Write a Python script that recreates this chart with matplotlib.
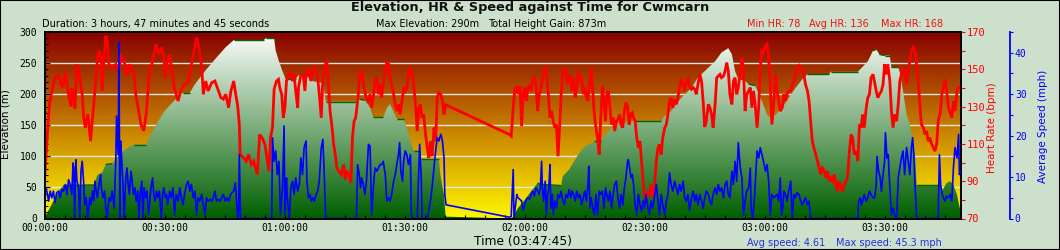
import numpy as np
import matplotlib
matplotlib.use('Agg')
import matplotlib.pyplot as plt
from matplotlib.colors import LinearSegmentedColormap
from matplotlib.patches import Polygon, Rectangle
from matplotlib.ticker import FixedLocator, MultipleLocator

# ---------------- data (time in minutes) ----------------
elev_time = [
    0.0, 0.8, 2.1, 3.4, 4.6, 12.2, 13.1, 14.3, 15.2, 16.8,
    17.7, 19.4, 21.1, 22.3, 25.3, 26.5, 27.8, 29.9, 32.4, 34.5,
    36.2, 37.5, 40.0, 42.5, 45.1, 47.2, 54.7, 55.2, 57.3, 57.7,
    58.5, 59.4, 60.2, 62.7, 63.6, 65.3, 66.9, 69.5, 70.3, 77.9,
    78.7, 80.0, 81.3, 82.1, 84.6, 85.5, 86.3, 88.0, 89.7, 90.5,
    91.4, 92.2, 93.9, 94.1, 98.5, 98.9, 99.8, 100.2, 116.6, 117.1,
    118.3, 120.0, 121.6, 123.2, 123.9, 129.1, 129.5, 131.1, 133.4, 135.0,
    137.4, 139.0, 140.5, 142.9, 145.3, 147.6, 154.1, 155.0, 156.6, 159.1,
    161.7, 163.3, 165.0, 167.6, 169.2, 170.9, 171.8, 172.6, 173.4, 175.1,
    176.0, 177.6, 179.3, 180.6, 181.4, 182.7, 184.4, 186.0, 187.7, 189.4,
    190.7, 196.1, 196.5, 203.3, 204.5, 205.8, 207.1, 207.9, 208.7, 210.0,
    211.3, 211.7, 213.4, 213.8, 214.6, 215.5, 216.3, 217.1, 217.6, 218.0,
    223.9, 224.3, 225.5, 226.4, 227.2, 228.1, 228.9]
elev_m = [
    3, 12, 28, 44, 53, 54, 70, 74, 87, 88,
    96, 108, 116, 119, 119, 135, 151, 173, 190, 202,
    202, 216, 237, 256, 275, 287, 287, 290, 290, 270,
    253, 237, 224, 224, 232, 230, 221, 218, 188, 188,
    192, 190, 178, 163, 163, 178, 184, 160, 160, 146,
    124, 109, 109, 95, 95, 70, 38, 3, 0, 3,
    17, 30, 44, 57, 55, 53, 68, 79, 103, 116,
    124, 124, 138, 151, 154, 157, 157, 165, 173, 194,
    210, 227, 237, 253, 267, 274, 264, 237, 224, 221,
    216, 214, 189, 167, 162, 167, 178, 194, 210, 224,
    232, 232, 236, 236, 244, 253, 270, 272, 264, 262,
    262, 243, 243, 235, 205, 167, 151, 124, 103, 54,
    54, 44, 57, 60, 54, 38, 14]

hr_time = [
    0.0, 0.4, 1.1, 1.7, 2.5, 3.4, 4.0, 4.5, 5.1, 5.5,
    5.9, 6.5, 6.7, 7.2, 7.5, 8.0, 8.7, 9.3, 9.7, 10.1,
    10.7, 11.4, 11.8, 12.2, 12.6, 13.2, 13.7, 14.1, 14.3, 14.6,
    15.2, 15.6, 16.0, 16.8, 17.7, 18.3, 19.1, 19.8, 20.5, 21.1,
    21.9, 22.3, 22.7, 23.3, 24.0, 24.7, 25.3, 25.7, 26.1, 26.7,
    27.8, 28.4, 29.2, 29.7, 30.1, 30.6, 31.2, 31.6, 32.3, 32.8,
    33.3, 33.9, 34.9, 35.8, 36.5, 37.1, 37.9, 38.5, 39.2, 39.6,
    40.2, 40.8, 41.7, 42.5, 43.4, 44.0, 44.6, 45.2, 45.9, 46.5,
    47.2, 47.7, 48.2, 48.6, 48.8, 49.7, 50.3, 50.9, 51.6, 52.2,
    53.1, 53.7, 54.3, 55.0, 56.0, 56.4, 56.9, 57.3, 57.9, 58.4,
    58.7, 59.2, 59.6, 60.0, 60.4, 60.9, 61.5, 61.9, 62.3, 62.7,
    63.2, 63.4, 64.0, 64.6, 65.0, 65.4, 65.9, 66.5, 67.0, 67.6,
    68.2, 68.6, 69.1, 69.5, 70.1, 70.5, 71.0, 71.3, 71.8, 72.2,
    72.6, 73.0, 73.5, 74.1, 74.7, 75.1, 75.5, 76.0, 76.5, 76.9,
    77.3, 77.7, 78.3, 78.7, 79.2, 79.8, 80.3, 80.8, 81.3, 81.7,
    82.1, 82.5, 83.0, 83.4, 83.8, 84.2, 84.6, 85.1, 85.5, 86.0,
    86.3, 86.7, 87.2, 87.6, 88.0, 88.4, 88.8, 89.3, 89.7, 90.1,
    90.5, 90.9, 91.4, 91.8, 92.2, 92.6, 93.1, 93.5, 93.9, 94.3,
    94.7, 95.2, 95.6, 96.0, 96.4, 96.8, 97.3, 97.7, 98.1, 98.5,
    99.0, 99.4, 99.8, 100.2, 116.2, 116.6, 117.1, 117.5, 117.9, 118.3,
    118.8, 119.2, 119.6, 120.0, 120.4, 120.8, 121.2, 121.6, 122.0, 122.4,
    122.8, 123.2, 123.6, 123.9, 124.3, 124.7, 125.1, 125.5, 125.9, 126.3,
    126.7, 127.1, 127.5, 127.9, 128.3, 128.7, 129.1, 129.5, 130.1, 130.7,
    131.1, 131.5, 131.8, 132.2, 132.6, 133.0, 133.4, 133.8, 134.2, 134.6,
    135.0, 135.4, 135.8, 136.2, 136.6, 137.0, 137.4, 137.8, 138.2, 138.6,
    139.0, 139.4, 139.8, 140.2, 140.5, 140.9, 141.3, 141.7, 142.1, 142.5,
    142.9, 143.3, 143.7, 144.1, 144.5, 144.9, 145.3, 145.7, 146.1, 146.5,
    146.9, 147.2, 147.6, 148.0, 148.4, 148.8, 149.2, 149.6, 149.9, 150.3,
    150.8, 151.2, 151.6, 152.0, 152.4, 152.9, 153.3, 153.7, 154.1, 154.5,
    155.0, 155.4, 155.8, 156.2, 156.6, 157.0, 157.5, 157.9, 158.3, 158.7,
    159.1, 159.6, 160.0, 160.4, 160.8, 161.2, 161.7, 162.1, 162.5, 162.9,
    163.3, 163.8, 164.2, 164.6, 165.0, 165.4, 165.9, 166.3, 166.7, 167.1,
    167.6, 168.0, 168.4, 168.8, 169.2, 169.7, 170.1, 170.5, 170.9, 171.3,
    171.8, 172.2, 172.6, 173.0, 173.4, 173.9, 174.3, 174.7, 175.1, 175.5,
    176.0, 176.4, 176.8, 177.2, 177.6, 178.1, 178.5, 178.9, 179.3, 179.7,
    180.2, 180.6, 181.0, 181.4, 181.8, 182.3, 182.7, 183.1, 183.5, 183.9,
    184.4, 184.8, 185.2, 185.6, 186.0, 186.5, 186.9, 187.3, 187.7, 188.1,
    188.6, 189.0, 189.4, 189.8, 190.2, 190.7, 191.1, 191.5, 191.9, 192.3,
    192.8, 193.2, 193.6, 194.0, 194.4, 194.9, 195.3, 195.7, 196.1, 196.5,
    197.0, 197.4, 197.8, 198.2, 198.6, 199.1, 199.5, 199.9, 200.3, 200.7,
    201.2, 201.6, 202.0, 202.4, 202.9, 203.3, 203.7, 204.1, 204.5, 204.9,
    205.4, 205.8, 206.2, 206.6, 207.1, 207.5, 207.9, 208.3, 208.7, 209.2,
    209.6, 210.0, 210.4, 210.8, 211.3, 211.7, 212.1, 212.5, 213.0, 213.4,
    213.8, 214.2, 214.6, 215.0, 215.5, 215.9, 216.3, 216.7, 217.1, 217.6,
    218.0, 218.4, 218.8, 219.2, 219.7, 220.1, 220.5, 220.9, 221.3, 221.8,
    222.2, 222.6, 223.0, 223.4, 223.9, 224.3, 224.7, 225.1, 225.5, 226.0,
    226.4, 226.8, 227.2, 227.6, 228.1, 228.5, 228.9]
hr_bpm = [
    95, 109, 131, 138, 145.5, 147, 142, 140, 149, 142,
    136.6, 130, 140, 135, 129, 152.7, 145.5, 136.6, 124, 118.7,
    126, 111.5, 122, 131, 142, 158, 160, 154.5, 138.4, 151,
    168, 165, 152.7, 151, 152.7, 149, 157, 154.5, 146.4, 152.7,
    149, 147.3, 136.6, 129.4, 120.4, 117, 126, 136.6, 149, 152.7,
    163.5, 158, 161.7, 156.3, 145.5, 154.5, 158, 151, 140, 136.6,
    133, 138.4, 142, 143, 151, 158, 167, 161.7, 151, 136.6,
    143.7, 138.4, 142.8, 143.7, 138.4, 134.8, 134, 136.6, 129.4, 138.4,
    143.7, 136.6, 130.3, 120.4, 104.3, 102.5, 100.7, 104.3, 98.9, 100.7,
    93.6, 115, 113.3, 109.7, 95.4, 113.3, 118.7, 139.3, 143.7, 144.6,
    140.2, 136.6, 124, 129.4, 143.7, 147.3, 148.2, 143.7, 147.3, 138.4,
    129.4, 140.2, 147.3, 146.4, 138.4, 149.1, 150, 143.7, 149.1, 150.9,
    145.5, 136.6, 124, 145.5, 152.7, 153.6, 138.4, 127.6, 118.7, 109.7,
    104.3, 97.1, 95.4, 93.6, 98.9, 90.9, 95.4, 93.6, 89.1, 113.3,
    122.2, 124, 134.8, 147.3, 149.1, 140.2, 134.8, 133, 136.6, 129.4,
    134.8, 143.7, 145.5, 136.6, 141.9, 134.8, 141.9, 149.1, 153.6, 152.7,
    145.5, 141.9, 136.6, 131.2, 127.6, 131.2, 125.8, 133, 140.2, 138.4,
    140.2, 147.3, 150.9, 148.2, 141.9, 133, 116.9, 129.4, 131.2, 124,
    125.8, 115, 107.9, 102.5, 111.5, 103.4, 118.7, 111.5, 134.8, 137.5,
    136.6, 133, 125.8, 131, 115, 114.2, 129.4, 139.3, 140.2, 136.6,
    141, 119.5, 136.6, 140.2, 133, 140.2, 141, 138.4, 144.6, 145.5,
    141.9, 127.6, 136.6, 138.4, 143.7, 147.3, 151.8, 145.5, 136.6, 124,
    127.6, 122.2, 118.7, 120.4, 103.4, 118.7, 136.6, 149.1, 150, 141.9,
    147.3, 143.7, 138.4, 145.5, 134.8, 140.2, 149.1, 143.7, 145.5, 136.6,
    140.2, 134.8, 133, 143.7, 150.9, 138.4, 125.8, 118.7, 113.3, 104.3,
    124, 141, 133, 122.2, 136.6, 138.4, 129.4, 120.4, 124, 116.9,
    122.2, 123.1, 125.8, 120.4, 118.7, 127.6, 132.1, 130.3, 120.4, 125.8,
    126.7, 124, 122.2, 113.3, 107.9, 111.5, 100.7, 90, 82.8, 79.2,
    84.6, 82.8, 88.2, 81, 86.4, 100.7, 107.9, 109.7, 104.3, 113.3,
    118.7, 120.4, 125.8, 133, 134.8, 129.4, 133.9, 131.2, 134.8, 140.2,
    143.7, 141.9, 138.4, 143.7, 145.5, 141, 139.3, 140.2, 139.3, 136.6,
    141.9, 147.3, 143.7, 133, 119.1, 122.2, 131.2, 129.4, 125.8, 118.7,
    131.2, 145.5, 146.4, 147.3, 145.5, 146.4, 149.1, 153.6, 149.1, 136.6,
    131.2, 143.7, 145.5, 136.6, 140.2, 149.1, 156.3, 149.1, 127.6, 136.6,
    138.4, 140.2, 129.4, 138.4, 131.2, 118.7, 129.4, 150.9, 159.9, 159,
    162.6, 163.5, 156.3, 142, 120.4, 133, 147.3, 138.4, 133, 127.6,
    129.4, 136.6, 133, 136.6, 138.4, 138.4, 141.9, 143.7, 147.3, 150,
    151.8, 150, 149.1, 147.3, 141.9, 138.4, 133, 122.2, 111.5, 107.9,
    104.3, 100.7, 97.1, 93.6, 97.1, 95.4, 91.8, 95.4, 90, 91.8,
    90, 93.6, 88.2, 84.7, 90, 86.4, 84.7, 88.2, 90, 91.8,
    106.1, 115, 113.3, 104.3, 106.1, 100.7, 120.4, 118.7, 125.8, 118.7,
    129.4, 134.8, 136.6, 145.5, 147.3, 142.8, 138.4, 134.8, 136.6, 138.4,
    141.9, 152.7, 147.3, 152.7, 143.7, 127.6, 118.7, 125.8, 122.2, 131.2,
    143.7, 147.3, 150.9, 149.1, 141.9, 149.1, 154.5, 159.9, 161.7, 159.9,
    152.7, 143.7, 131.2, 120.4, 118.7, 115.1, 116.9, 111.5, 113.3, 109.7,
    107.9, 106.1, 109.7, 122.2, 126.7, 136.6, 140.2, 144.6, 138.4, 129.4,
    126.7, 124, 133, 127.6, 138.4, 140.2, 140.2]

speed_time = [
    0.3, 0.6, 0.9, 1.3, 1.7, 2.1, 2.5, 2.9, 3.4, 3.8,
    4.2, 4.6, 5.1, 5.5, 5.9, 6.3, 6.7, 7.0, 7.2, 7.4,
    7.7, 8.0, 8.4, 8.7, 9.0, 9.3, 9.7, 9.9, 10.3, 10.7,
    11.2, 11.5, 11.9, 12.2, 12.5, 12.8, 13.1, 13.5, 13.9, 14.1,
    14.5, 14.9, 15.2, 15.6, 16.0, 16.4, 16.8, 17.3, 17.7, 17.9,
    18.3, 18.5, 18.7, 18.9, 19.2, 19.5, 19.8, 20.2, 20.5, 20.8,
    21.1, 21.5, 21.8, 22.1, 22.5, 22.8, 23.2, 23.5, 23.8, 24.2,
    24.5, 24.8, 25.2, 25.5, 25.9, 26.2, 26.5, 26.9, 27.2, 27.5,
    27.9, 28.2, 28.6, 29.1, 29.4, 29.7, 30.1, 30.4, 30.7, 31.2,
    31.6, 32.0, 32.4, 32.8, 33.3, 33.7, 34.1, 34.5, 34.9, 35.4,
    35.8, 36.2, 36.6, 37.1, 37.5, 37.9, 38.3, 38.7, 39.2, 39.6,
    40.0, 40.4, 40.8, 41.3, 41.7, 42.1, 42.5, 42.9, 43.4, 43.8,
    44.2, 44.6, 45.1, 45.5, 45.9, 46.3, 46.7, 47.2, 47.6, 47.8,
    48.2, 48.4, 48.6, 48.9, 56.7, 56.9, 57.3, 57.7, 58.1, 58.5,
    58.9, 59.4, 59.8, 60.0, 60.4, 60.6, 61.1, 61.5, 61.9, 62.3,
    62.7, 63.2, 63.6, 64.0, 64.4, 64.8, 65.3, 65.5, 65.9, 66.3,
    66.6, 67.0, 67.4, 67.8, 68.2, 68.6, 69.1, 69.5, 69.9, 70.2,
    70.5, 77.9, 78.2, 78.6, 78.9, 79.2, 79.6, 80.0, 80.4, 80.9,
    81.3, 81.7, 82.0, 82.3, 82.6, 83.0, 83.4, 83.8, 84.2, 84.6,
    85.1, 85.5, 85.9, 86.3, 86.7, 87.2, 87.6, 88.0, 88.4, 88.7,
    89.0, 89.4, 89.7, 90.1, 90.5, 90.9, 91.4, 91.6, 92.0, 93.1,
    93.5, 93.7, 94.1, 94.3, 95.6, 96.4, 96.8, 97.3, 97.7, 98.1,
    98.5, 99.0, 99.4, 99.8, 100.0, 100.3, 116.2, 116.6, 117.1, 117.3,
    117.7, 118.0, 118.3, 118.8, 119.2, 119.6, 120.0, 120.4, 120.8, 121.2,
    121.6, 122.0, 122.4, 122.8, 123.2, 123.6, 123.9, 124.2, 124.4, 124.7,
    125.1, 125.4, 125.7, 126.0, 126.3, 126.5, 126.9, 127.1, 127.5, 127.9,
    128.3, 128.7, 129.1, 129.5, 129.9, 130.3, 130.7, 131.1, 131.5, 131.8,
    132.2, 132.6, 133.0, 133.4, 133.8, 134.2, 134.6, 135.0, 135.4, 135.8,
    136.0, 136.3, 136.6, 137.0, 137.4, 137.8, 138.2, 138.6, 139.0, 139.4,
    139.8, 140.2, 140.5, 140.9, 141.3, 141.7, 142.1, 142.5, 142.9, 143.3,
    143.7, 144.1, 144.5, 144.9, 145.3, 145.7, 145.9, 146.2, 146.6, 146.9,
    147.2, 147.6, 148.0, 148.4, 148.8, 149.2, 149.6, 149.9, 150.3, 150.8,
    151.2, 151.6, 152.0, 152.4, 152.9, 153.3, 153.7, 154.1, 154.5, 155.0,
    155.4, 155.8, 156.2, 156.6, 157.0, 157.5, 157.9, 158.3, 158.7, 159.1,
    159.6, 160.0, 160.4, 160.8, 161.2, 161.7, 162.1, 162.5, 162.9, 163.3,
    163.8, 164.2, 164.6, 165.0, 165.4, 165.9, 166.3, 166.7, 167.1, 167.6,
    168.0, 168.4, 168.8, 169.2, 169.7, 170.1, 170.5, 170.9, 171.3, 171.8,
    172.2, 172.6, 173.0, 173.4, 173.9, 174.3, 174.7, 175.1, 175.5, 176.0,
    176.4, 176.6, 177.0, 177.5, 177.8, 178.1, 178.5, 178.9, 179.3, 179.7,
    180.2, 180.6, 181.0, 181.4, 181.8, 182.3, 182.7, 183.1, 183.5, 183.9,
    184.2, 184.5, 184.8, 185.2, 185.6, 186.0, 186.5, 186.9, 187.3, 187.7,
    188.1, 188.6, 189.0, 189.4, 189.8, 190.2, 190.7, 191.1, 191.5, 203.3,
    203.5, 203.9, 204.2, 204.5, 204.9, 205.4, 205.8, 206.2, 206.6, 207.1,
    207.5, 207.9, 208.1, 208.5, 208.9, 209.2, 209.6, 210.0, 210.2, 210.6,
    210.9, 211.3, 211.7, 212.1, 212.5, 213.0, 213.4, 213.8, 214.2, 214.6,
    215.0, 215.5, 215.9, 216.3, 216.7, 217.0, 217.3, 217.6, 218.0, 223.4,
    223.7, 224.0, 224.4, 224.7, 225.1, 225.5, 226.0, 226.4, 226.8, 227.2,
    227.6, 228.1, 228.5, 228.7, 228.9]
speed_mph = [
    7.4, 5.8, 4.2, 6.6, 5.0, 6.6, 3.8, 6.2, 6.6, 5.0,
    7.0, 6.6, 8.2, 5.8, 9.4, 8.2, 5.8, 13.4, 12.2, 0.0,
    14.2, 9.0, 7.4, 0.0, 11.4, 13.8, 8.2, 3.3, 5.0, 0.0,
    5.0, 3.3, 6.6, 4.2, 9.0, 6.6, 5.0, 8.2, 10.6, 7.4,
    5.0, 6.6, 2.5, 0.0, 5.0, 4.2, 6.6, 2.5, 13.8, 24.7,
    15.4, 42.5, 0.0, 18.7, 13.8, 8.2, 0.0, 9.8, 12.2, 8.2,
    5.8, 11.4, 9.0, 5.8, 7.4, 4.2, 6.6, 0.0, 5.8, 9.0,
    0.0, 7.4, 5.0, 6.6, 0.9, 4.2, 7.4, 9.8, 5.8, 4.2,
    6.6, 5.0, 6.6, 0.0, 5.8, 7.4, 5.0, 5.8, 3.3, 6.6,
    5.0, 7.4, 0.9, 5.8, 4.2, 7.4, 5.0, 3.3, 5.8, 8.2,
    9.0, 6.6, 8.2, 5.0, 6.6, 0.9, 5.0, 4.2, 5.8, 3.3,
    0.9, 5.0, 4.2, 4.6, 4.2, 5.0, 6.6, 4.2, 4.6, 4.2,
    5.0, 5.8, 4.2, 5.0, 4.2, 5.4, 6.2, 6.6, 8.6, 5.8,
    0.0, 0.9, 15.4, 0.0, 0.0, 19.5, 13.8, 16.3, 10.6, 13.8,
    0.9, 7.4, 22.3, 0.9, 9.8, 5.0, 0.0, 7.4, 9.0, 5.8,
    9.8, 6.6, 8.2, 14.6, 10.6, 17.1, 18.7, 9.0, 5.0, 5.8,
    4.2, 5.0, 4.2, 5.8, 6.6, 9.0, 17.1, 19.1, 9.0, 0.0,
    0.0, 0.0, 13.0, 10.6, 7.4, 9.8, 8.2, 5.8, 9.0, 17.9,
    17.5, 0.9, 5.8, 9.8, 12.2, 11.4, 12.2, 13.0, 13.0, 13.8,
    10.6, 4.2, 5.0, 4.2, 5.8, 9.0, 10.6, 13.0, 15.4, 18.3,
    11.4, 9.0, 13.8, 16.3, 15.4, 13.0, 15.4, 0.9, 0.0, 0.0,
    12.2, 17.9, 9.8, 0.0, 0.0, 4.2, 7.4, 12.2, 16.3, 19.5,
    18.7, 20.3, 18.7, 14.6, 5.8, 3.3, 0.3, 0.5, 11.8, 0.0,
    3.3, 5.8, 5.0, 4.6, 4.2, 2.1, 3.3, 4.6, 5.0, 4.6,
    5.8, 6.6, 5.4, 7.4, 6.6, 5.8, 7.4, 13.8, 7.4, 4.2,
    9.0, 0.9, 5.8, 7.4, 13.0, 2.5, 5.8, 0.9, 4.2, 2.5,
    5.8, 5.0, 6.6, 4.2, 3.3, 5.8, 5.0, 7.0, 5.0, 6.6,
    5.8, 4.2, 6.6, 5.0, 5.8, 3.3, 5.0, 6.6, 4.2, 8.2,
    12.6, 2.5, 5.0, 2.5, 0.9, 5.8, 0.9, 6.6, 5.8, 6.6,
    2.5, 7.4, 5.8, 4.2, 6.6, 2.5, 5.8, 8.2, 9.0, 5.0,
    2.5, 5.8, 3.3, 7.4, 9.8, 13.8, 14.2, 12.2, 9.8, 10.6,
    8.2, 3.3, 0.9, 5.8, 3.3, 1.7, 4.2, 2.5, 5.8, 2.5,
    0.9, 4.2, 2.5, 5.0, 8.2, 4.2, 0.9, 5.8, 3.3, 0.9,
    4.2, 5.8, 11.0, 8.2, 6.6, 9.0, 7.4, 5.8, 8.2, 6.6,
    9.0, 5.0, 4.2, 5.8, 2.1, 5.0, 6.6, 4.2, 5.8, 3.3,
    5.8, 4.2, 2.5, 5.0, 6.6, 5.8, 4.2, 3.3, 5.8, 7.4,
    5.8, 8.2, 6.6, 7.4, 5.0, 8.2, 9.0, 5.8, 5.0, 11.4,
    8.2, 13.8, 9.0, 18.3, 12.2, 9.8, 0.9, 4.2, 6.6, 7.4,
    12.2, 2.5, 0.0, 5.8, 11.4, 16.3, 14.6, 17.1, 15.4, 13.8,
    11.4, 13.0, 9.0, 0.9, 5.8, 5.0, 5.4, 5.8, 4.2, 9.8,
    0.9, 2.5, 6.6, 5.8, 4.2, 6.6, 9.0, 0.0, 5.8, 5.0,
    6.2, 5.8, 4.2, 3.3, 4.2, 5.0, 3.3, 4.2, 0.0, 0.0,
    4.2, 5.0, 3.3, 4.2, 5.8, 4.2, 5.0, 6.6, 5.8, 5.0,
    5.0, 8.2, 15.0, 11.4, 9.8, 6.6, 10.6, 13.8, 20.7, 14.6,
    15.4, 7.4, 0.9, 2.5, 0.9, 0.0, 9.8, 12.2, 14.6, 16.3,
    10.6, 17.1, 13.8, 10.6, 17.1, 19.5, 15.4, 8.2, 0.0, 0.0,
    15.4, 8.2, 5.8, 5.0, 4.2, 5.4, 5.0, 5.8, 4.2, 12.2,
    17.1, 14.6, 20.3, 10.6, 11.4]

time_ticks = [0, 30, 60, 90, 120, 150, 180, 210]
time_labels = ['00:00:00', '00:30:00', '01:00:00', '01:30:00',
               '02:00:00', '02:30:00', '03:00:00', '03:30:00']
elev_ticks = [0, 50, 100, 150, 200, 250, 300]
hr_ticks = [70, 90, 110, 130, 150, 170]
speed_ticks = [0, 10, 20, 30, 40]

title = 'Elevation, HR & Speed against Time for Cwmcarn'
duration_txt = 'Duration: 3 hours, 47 minutes and 45 seconds'
maxelev_txt = 'Max Elevation: 290m'
gain_txt = 'Total Height Gain: 873m'
hr_txts = ['Min HR: 78', 'Avg HR: 136', 'Max HR: 168']
time_txt = 'Time (03:47:45)'
spd_txts = ['Avg speed: 4.61', 'Max speed: 45.3 mph']

# ---------------- figure ----------------
W, H = 1060, 250
XMAX = 229.1
fig = plt.figure(figsize=(W / 100, H / 100), dpi=100)
fig.patch.set_facecolor('#cde0cc')
fig.add_artist(Rectangle((0, 0), 1, 1, transform=fig.transFigure, fill=False,
                         edgecolor='black', lw=1.5))

def fx(x):
    return x / W

def fy(y):
    return 1 - y / H

ax = fig.add_axes([fx(45), fy(218.5), (961 - 45) / W, (218.5 - 32) / H])
ax.set_axisbelow(False)

grad = np.linspace(0, 1, 256).reshape(-1, 1)
bg_cmap = LinearSegmentedColormap.from_list('bg', ['#fff600', '#880000'])
green_cmap = LinearSegmentedColormap.from_list('gr', ['#006000', '#ffffff'])
ax.imshow(grad, extent=[0, XMAX, 0, 300], origin='lower', aspect='auto',
          cmap=bg_cmap, zorder=0, interpolation='bilinear')
for v in elev_ticks[1:-1]:
    ax.axhline(v, color='#e6e6e6', lw=1.0, zorder=1)

et = np.asarray(elev_time)
em = np.asarray(elev_m, dtype=float)
verts = np.column_stack([np.r_[et[0], et, et[-1]], np.r_[0, em, 0]])
poly = Polygon(verts, closed=True, facecolor='none', edgecolor='none',
               transform=ax.transData)
ax.add_patch(poly)
im = ax.imshow(grad, extent=[0, XMAX, 0, 300], origin='lower', aspect='auto',
               cmap=green_cmap, zorder=2, interpolation='bilinear')
im.set_clip_path(poly)
# outline only on the (near) flat stretches, as in the original
flat = np.abs(np.diff(em)) <= 2
for i in np.nonzero(flat)[0]:
    ax.plot(et[i:i + 2], em[i:i + 2], color='#006400', lw=1.0, zorder=3,
            solid_capstyle='butt')

ax.set_xlim(0, XMAX)
ax.set_ylim(0, 300)
ax.xaxis.set_major_locator(FixedLocator(time_ticks))
ax.set_xticklabels(time_labels, fontfamily='DejaVu Sans Mono', fontsize=7)
ax.xaxis.set_minor_locator(MultipleLocator(5))
ax.yaxis.set_major_locator(FixedLocator(elev_ticks))
ax.yaxis.set_minor_locator(MultipleLocator(10))
for lbl in ax.get_yticklabels():
    lbl.set_fontfamily('DejaVu Sans Mono')
    lbl.set_fontsize(7)
ax.tick_params(axis='x', which='both', direction='in', length=3, width=0.8,
               pad=3, top=False)
ax.tick_params(axis='y', which='major', direction='in', length=3.5, width=0.8,
               pad=5.5)
ax.tick_params(axis='y', which='minor', direction='in', length=2.2, width=0.8)
for sp in ax.spines.values():
    sp.set_visible(False)

# heart rate
ax2 = ax.twinx()
ax2.set_ylim(70, 170)
ax2.plot(hr_time, hr_bpm, color='#ff0000', lw=2.0, solid_joinstyle='miter')
ax2.yaxis.set_major_locator(FixedLocator(hr_ticks))
ax2.yaxis.set_minor_locator(MultipleLocator(10))
ax2.tick_params(axis='y', which='both', direction='out', length=3, width=0.8,
                colors='#ff0000', pad=1)
for lbl in ax2.get_yticklabels():
    lbl.set_fontfamily('DejaVu Sans Mono')
    lbl.set_fontsize(7.5)
for k in ['left', 'top', 'bottom']:
    ax2.spines[k].set_visible(False)
ax2.spines['right'].set_color('black')
ax2.spines['right'].set_linewidth(1.4)

# speed
ax3 = ax.twinx()
ax3.set_ylim(0, 45)
ax3.plot(speed_time, speed_mph, color='#0000ff', lw=1.2)
ax3.spines['right'].set_position(('axes', (1010 - 45) / (961 - 45)))
for k in ['left', 'top', 'bottom']:
    ax3.spines[k].set_color('black')
    ax3.spines[k].set_linewidth(1.4)
ax3.spines['right'].set_color('#0000ff')
ax3.spines['right'].set_linewidth(1.3)
ax3.yaxis.set_major_locator(FixedLocator(speed_ticks))
ax3.yaxis.set_minor_locator(MultipleLocator(5))
ax3.tick_params(axis='y', which='both', direction='out', length=2.5, width=0.8,
                colors='#0000ff', pad=1)
for lbl in ax3.get_yticklabels():
    lbl.set_fontfamily('DejaVu Sans Mono')
    lbl.set_fontsize(7)
ax.set_xlim(0, XMAX)

# ---------------- texts ----------------
fig.text(fx(530), fy(11), title, ha='center', va='baseline', fontsize=9.3,
         fontweight='bold', color='#111111')
fig.text(fx(42.3), fy(26.7), duration_txt, ha='left', va='baseline', fontsize=7)
fig.text(fx(375.7), fy(26.7), maxelev_txt, ha='left', va='baseline', fontsize=7)
fig.text(fx(488.3), fy(26.7), gain_txt, ha='left', va='baseline', fontsize=7)
for x0, t in zip([747.3, 809.3, 880.7], hr_txts):
    fig.text(fx(x0), fy(26.7), t, ha='left', va='baseline', fontsize=7,
             color='#ee1111')
fig.text(fx(474), fy(245.5), time_txt, ha='left', va='baseline', fontsize=8.8)
for x0, t in zip([747.3, 836.0], spd_txts):
    fig.text(fx(x0), fy(245.5), t, ha='left', va='baseline', fontsize=7,
             color='#2233dd')
fig.text(fx(5.5), fy(124.5), 'Elevation (m)', rotation=90, ha='center',
         va='center', fontsize=7.5)
fig.text(fx(992), fy(127.5), 'Heart Rate (bpm)', rotation=90, ha='center',
         va='center', fontsize=7.5, color='#ff0000')
fig.text(fx(1042.7), fy(126.5), 'Average Speed (mph)', rotation=90,
         ha='center', va='center', fontsize=7.5, color='#0000ff')

fig.savefig('out.png', dpi=100, facecolor=fig.get_facecolor())
